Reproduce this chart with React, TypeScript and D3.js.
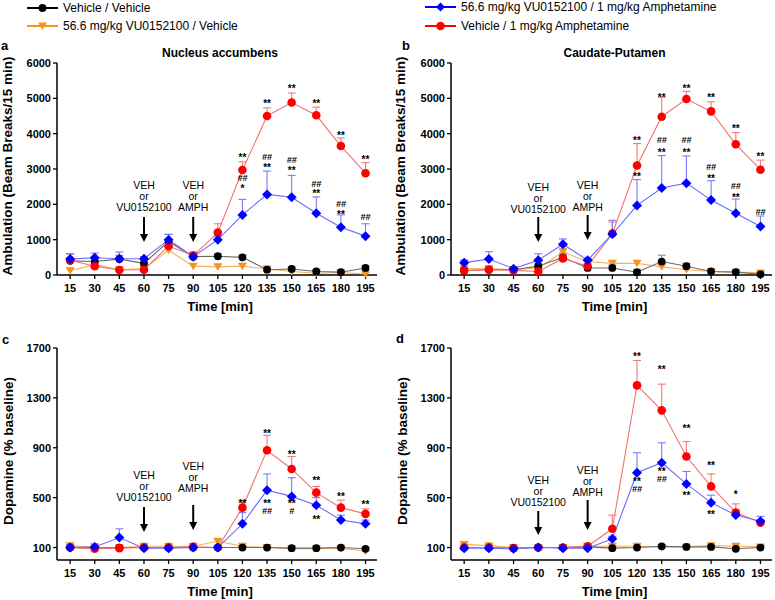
import React from "react";
import * as d3 from "d3";

const times = [15, 30, 45, 60, 75, 90, 105, 120, 135, 150, 165, 180, 195];

// a: Nucleus accumbens, ambulation
const ambNAcVehVeh = [400, 380, 450, 330, 950, 520, 530, 500, 150, 170, 100, 80, 200];
const ambNAcVehVehErr = [600, 500, 560, 420, 1150, 620, 600, 570, 200, 230, 150, 120, 260];
const ambNAcVuVeh = [120, 300, 150, 180, 700, 250, 230, 250, 170, 100, 50, 70, 30];
const ambNAcVuVehErr = [200, 380, 220, 260, 800, 320, 300, 320, 230, 150, 90, 110, 70];
const ambNAcVuAmph = [450, 490, 460, 460, 1000, 520, 1000, 1700, 2280, 2200, 1750, 1350, 1100];
const ambNAcVuAmphErr = [600, 620, 650, 520, 1150, 620, 1100, 2140, 2940, 2820, 2210, 1700, 1450];
const ambNAcVehAmph = [420, 250, 140, 150, 820, 550, 1200, 2970, 4500, 4880, 4520, 3650, 2880];
const ambNAcVehAmphErr = [600, 330, 200, 220, 900, 650, 1450, 3200, 4730, 5150, 4750, 3880, 3180];

// b: Caudate-Putamen, ambulation
const ambCPuVehVeh = [120, 150, 150, 250, 500, 200, 200, 80, 380, 250, 100, 80, 20];
const ambCPuVehVehErr = [200, 220, 220, 330, 620, 280, 280, 150, 560, 330, 150, 130, 60];
const ambCPuVuVeh = [180, 180, 150, 200, 650, 380, 330, 330, 230, 150, 100, 80, 60];
const ambCPuVuVehErr = [420, 260, 220, 280, 750, 450, 400, 400, 300, 210, 150, 120, 100];
const ambCPuVuAmph = [350, 450, 180, 420, 870, 420, 1160, 1970, 2460, 2600, 2120, 1750, 1370];
const ambCPuVuAmphErr = [420, 660, 230, 600, 1020, 480, 1550, 2700, 3380, 3370, 2670, 2150, 1670];
const ambCPuVehAmph = [130, 150, 130, 100, 470, 250, 1170, 3100, 4480, 4980, 4630, 3700, 2980];
const ambCPuVehAmphErr = [200, 220, 200, 160, 560, 320, 1500, 3720, 5030, 5200, 4900, 4030, 3250];

// c: Nucleus accumbens, dopamine
const daNAcVehVeh = [100, 95, 100, 100, 100, 100, 100, 100, 100, 95, 95, 100, 90];
const daNAcVehVehErr = [110, 105, 110, 110, 110, 110, 110, 110, 110, 105, 105, 110, 100];
const daNAcVuVeh = [115, 100, 100, 110, 110, 110, 150, 110, 100, 90, 90, 95, 70];
const daNAcVuVehErr = [125, 110, 110, 120, 120, 120, 165, 120, 110, 100, 100, 105, 80];
const daNAcVuAmph = [100, 105, 180, 95, 95, 100, 100, 290, 560, 510, 440, 320, 290];
const daNAcVuAmphErr = [120, 130, 250, 110, 110, 115, 115, 380, 690, 660, 500, 360, 320];
const daNAcVehAmph = [100, 90, 95, 100, 100, 105, 100, 420, 880, 730, 540, 420, 370];
const daNAcVehAmphErr = [120, 100, 105, 115, 110, 115, 110, 480, 1000, 830, 590, 480, 410];

// d: Caudate-Putamen, dopamine
const daCPuVehVeh = [100, 100, 95, 100, 100, 105, 95, 100, 110, 105, 105, 90, 100];
const daCPuVehVehErr = [110, 110, 105, 110, 110, 115, 105, 110, 120, 115, 115, 100, 110];
const daCPuVuVeh = [125, 115, 100, 100, 100, 110, 110, 110, 100, 105, 115, 110, 105];
const daCPuVuVehErr = [135, 125, 110, 110, 110, 120, 120, 120, 110, 115, 125, 120, 115];
const daCPuVuAmph = [95, 95, 90, 100, 95, 95, 170, 700, 780, 610, 460, 360, 310];
const daCPuVuAmphErr = [110, 105, 100, 110, 105, 105, 190, 860, 940, 710, 520, 400, 350];
const daCPuVehAmph = [100, 100, 95, 100, 100, 110, 250, 1400, 1200, 830, 590, 380, 300];
const daCPuVehAmphErr = [110, 110, 105, 110, 110, 120, 360, 1600, 1410, 950, 690, 450, 320];

// significance marks: [time, text, level]
const sigA: [number, string, number][] = [
  [120, "**", 3380], [135, "**", 4930], [150, "**", 5330], [165, "**", 4930], [180, "**", 4010], [195, "**", 3330],
  [120, "##", 2755], [120, "*", 2500], [135, "##", 3350], [135, "**", 3113], [150, "##", 3255], [150, "**", 3020],
  [165, "##", 2595], [165, "**", 2360], [180, "##", 2030], [180, "**", 1790], [195, "##", 1650],
];
const sigB: [number, string, number][] = [
  [120, "**", 3870], [135, "**", 5075], [150, "**", 5330], [165, "**", 5095], [180, "**", 4217], [195, "**", 3415],
  [120, "**", 2850], [135, "##", 3820], [135, "**", 3540], [150, "##", 3820], [150, "**", 3540],
  [165, "##", 3065], [165, "**", 2800], [180, "##", 2520], [180, "**", 2265], [195, "##", 1790],
];
const sigC: [number, string, number][] = [
  [120, "**", 470], [135, "**", 1035], [150, "**", 864], [165, "**", 655], [180, "**", 527], [195, "**", 463],
  [135, "**", 470], [135, "##", 398], [150, "**", 470], [150, "#", 398], [165, "**", 347],
];
const sigD: [number, string, number][] = [
  [120, "**", 1650], [135, "**", 1550], [150, "**", 1069], [165, "**", 775], [180, "*", 543],
  [120, "**", 645], [120, "##", 573], [135, "**", 726], [135, "##", 654], [150, "**", 535], [165, "**", 385],
];

const ambTicks = [0, 1000, 2000, 3000, 4000, 5000, 6000];
const daTicks = [100, 500, 900, 1300, 1700];

const FONT = "Liberation Sans, Arial, sans-serif";

type Series = { vals: number[]; errs: number[]; kind: "vv" | "uv" | "ua" | "va" };

const STYLE = {
  vv: { mark: "#000000", line: "#6a6a6a", err: "#888888" },
  uv: { mark: "#f7941d", line: "#f8b060", err: "#f8b060" },
  ua: { mark: "#0000ff", line: "#6c6cff", err: "#7a7aff" },
  va: { mark: "#ff0000", line: "#f27272", err: "#f27a7a" },
};

function Marker({ kind, x, y, legend }: { kind: string; x: number; y: number; legend?: boolean }) {
  const c = (STYLE as any)[kind].mark;
  if (kind === "ua") {
    const s = legend ? 4.5 : 5;
    return <path d={`M${x},${y - s}L${x + s},${y}L${x},${y + s}L${x - s},${y}Z`} fill={c} />;
  }
  if (kind === "uv") {
    return <path d={`M${x - 4.5},${y - 3.5}L${x + 4.5},${y - 3.5}L${x},${y + 4}Z`} fill={c} />;
  }
  return <circle cx={x} cy={y} r={kind === "va" ? 4.3 : 3.9} fill={c} />;
}

type ArrowCfg = { t: number; lines: string[]; textY: number; a0: number; a1: number };

type PanelProps = {
  x0: number; x1: number; yTop: number; yBot: number;
  domain: [number, number]; ticks: number[];
  series: Series[]; sig: [number, string, number][];
  arrows: ArrowCfg[];
  letter: string; letterX: number; letterY: number;
  title?: string; titleY?: number;
  yLabel: string; yLabelX: number;
};

function Panel(p: PanelProps) {
  const x = d3.scaleLinear().domain([7, 202]).range([p.x0, p.x1]);
  const y = d3.scaleLinear().domain(p.domain).range([p.yBot, p.yTop]);
  const line = d3.line<number>().x((_, i) => x(times[i])).y((d) => y(d));
  const order = ["uv", "vv", "va", "ua"];
  const sorted = order.map((k) => p.series.find((s) => s.kind === k)!);

  // stack marks at the same time point that sit close together into one text
  const groups: { t: number; items: { txt: string; py: number }[] }[] = [];
  p.sig.forEach(([t, txt, lv]) => {
    const py = y(lv);
    const g = groups.find((gr) => gr.t === t && gr.items.some((it) => Math.abs(it.py - py) < 12));
    if (g) g.items.push({ txt, py });
    else groups.push({ t, items: [{ txt, py }] });
  });

  return (
    <g fontFamily={FONT}>
      <text x={p.letterX} y={p.letterY} fontSize={13} fontWeight="bold">{p.letter}</text>
      {p.title && (
        <text x={(p.x0 + p.x1) / 2 + 3} y={p.titleY} fontSize={12} fontWeight="bold" textAnchor="middle">{p.title}</text>
      )}
      <text
        transform={`translate(${p.yLabelX},${(p.yTop + p.yBot) / 2 - 3}) rotate(-90)`}
        fontSize={13.5} fontWeight="bold" textAnchor="middle"
      >{p.yLabel}</text>
      {/* axes */}
      <line x1={p.x0} x2={p.x0} y1={p.yTop} y2={p.yBot} stroke="#000" strokeWidth={1.5} />
      <line x1={p.x0} x2={p.x1} y1={p.yBot} y2={p.yBot} stroke="#000" strokeWidth={1.5} />
      {p.ticks.map((t) => (
        <g key={t}>
          <line x1={p.x0 - 4} x2={p.x0} y1={y(t)} y2={y(t)} stroke="#000" strokeWidth={1.3} />
          <text x={p.x0 - 6} y={y(t) + 4} fontSize={11} fontWeight="bold" textAnchor="end">{t}</text>
        </g>
      ))}
      {times.map((t) => (
        <g key={t}>
          <line x1={x(t)} x2={x(t)} y1={p.yBot} y2={p.yBot + 4} stroke="#000" strokeWidth={1.3} />
          <text x={x(t)} y={p.yBot + 17} fontSize={11} fontWeight="bold" textAnchor="middle">{t}</text>
        </g>
      ))}
      <text x={(p.x0 + p.x1) / 2 + 3} y={p.yBot + 36} fontSize={13} fontWeight="bold" textAnchor="middle">Time [min]</text>
      {/* arrows */}
      {p.arrows.map((a, i) => (
        <g key={i}>
          {a.lines.map((l, j) => (
            <text key={j} x={x(a.t)} y={a.textY + j * 11} fontSize={10.5} textAnchor="middle">{l}</text>
          ))}
          <line x1={x(a.t)} x2={x(a.t)} y1={a.a0} y2={a.a1 - 6} stroke="#000" strokeWidth={2} />
          <path d={`M${x(a.t) - 4},${a.a1 - 8}L${x(a.t) + 4},${a.a1 - 8}L${x(a.t)},${a.a1}Z`} fill="#000" />
        </g>
      ))}
      {/* lines and error bars */}
      {sorted.map((s) => {
        const st = (STYLE as any)[s.kind];
        return (
          <g key={s.kind}>
            {s.vals.map((v, i) => (
              <g key={i} stroke={st.err} strokeWidth={1.1}>
                <line x1={x(times[i])} x2={x(times[i])} y1={y(v)} y2={y(s.errs[i])} />
                <line x1={x(times[i]) - 4} x2={x(times[i]) + 4} y1={y(s.errs[i])} y2={y(s.errs[i])} />
              </g>
            ))}
            <path d={line(s.vals) || ""} fill="none" stroke={st.line} strokeWidth={1.1} />
          </g>
        );
      })}
      {sorted.map((s) => (
        <g key={s.kind}>
          {s.vals.map((v, i) => (
            <Marker key={i} kind={s.kind} x={x(times[i])} y={y(v)} />
          ))}
        </g>
      ))}
      {/* significance */}
      {groups.map((g, i) => (
        <text key={i} textAnchor="middle" fontWeight="bold">
          {g.items.map((it, j) => {
            const hash = it.txt.includes("#");
            const fs = hash ? 9 : 10;
            return (
              <tspan
                key={j} x={x(g.t)} y={it.py + (hash ? 0.36 : 0.58) * fs}
                fontSize={fs} fontStyle={hash ? "italic" : "normal"}
              >{it.txt}</tspan>
            );
          })}
        </text>
      ))}
    </g>
  );
}

function LegendItem({ kind, x, y, label }: { kind: string; x: number; y: number; label: string }) {
  const c = (STYLE as any)[kind].mark;
  return (
    <g fontFamily={FONT}>
      <line x1={x} x2={x + 31} y1={y} y2={y} stroke={c} strokeWidth={2} />
      <Marker kind={kind} x={x + 15.5} y={y} legend />
      <text x={x + 36} y={y + 4.3} fontSize={12}>{label}</text>
    </g>
  );
}

export default function App() {
  const veh60 = ["VEH", "or", "VU0152100"];
  const veh90 = ["VEH", "or", "AMPH"];
  return (
    <svg width={775} height={600} style={{ position: "absolute", left: 0, top: 0, background: "#fff" }}>
      <rect width={775} height={600} fill="#fff" />
      <LegendItem kind="vv" x={27} y={8} label="Vehicle / Vehicle" />
      <LegendItem kind="uv" x={27} y={26} label="56.6 mg/kg VU0152100 / Vehicle" />
      <LegendItem kind="ua" x={425} y={7} label="56.6 mg/kg VU0152100 / 1 mg/kg Amphetamine" />
      <LegendItem kind="va" x={425} y={26} label="Vehicle / 1 mg/kg Amphetamine" />
      <Panel
        x0={57} x1={377} yTop={63} yBot={275} domain={[0, 6000]} ticks={ambTicks}
        series={[
          { vals: ambNAcVehVeh, errs: ambNAcVehVehErr, kind: "vv" },
          { vals: ambNAcVuVeh, errs: ambNAcVuVehErr, kind: "uv" },
          { vals: ambNAcVuAmph, errs: ambNAcVuAmphErr, kind: "ua" },
          { vals: ambNAcVehAmph, errs: ambNAcVehAmphErr, kind: "va" },
        ]}
        sig={sigA}
        arrows={[
          { t: 60, lines: veh60, textY: 189, a0: 217, a1: 242 },
          { t: 90, lines: veh90, textY: 189, a0: 217, a1: 242 },
        ]}
        letter="a" letterX={1} letterY={50} title="Nucleus accumbens" titleY={57}
        yLabel="Ambulation (Beam Breaks/15 min)" yLabelX={12}
      />
      <Panel
        x0={451} x1={772} yTop={63} yBot={275} domain={[0, 6000]} ticks={ambTicks}
        series={[
          { vals: ambCPuVehVeh, errs: ambCPuVehVehErr, kind: "vv" },
          { vals: ambCPuVuVeh, errs: ambCPuVuVehErr, kind: "uv" },
          { vals: ambCPuVuAmph, errs: ambCPuVuAmphErr, kind: "ua" },
          { vals: ambCPuVehAmph, errs: ambCPuVehAmphErr, kind: "va" },
        ]}
        sig={sigB}
        arrows={[
          { t: 60, lines: veh60, textY: 191, a0: 217, a1: 242 },
          { t: 90, lines: veh90, textY: 189, a0: 215, a1: 240 },
        ]}
        letter="b" letterX={402} letterY={50} title="Caudate-Putamen" titleY={57}
        yLabel="Ambulation (Beam Breaks/15 min)" yLabelX={405}
      />
      <Panel
        x0={57} x1={377} yTop={348} yBot={560} domain={[0, 1700]} ticks={daTicks}
        series={[
          { vals: daNAcVehVeh, errs: daNAcVehVehErr, kind: "vv" },
          { vals: daNAcVuVeh, errs: daNAcVuVehErr, kind: "uv" },
          { vals: daNAcVuAmph, errs: daNAcVuAmphErr, kind: "ua" },
          { vals: daNAcVehAmph, errs: daNAcVehAmphErr, kind: "va" },
        ]}
        sig={sigC}
        arrows={[
          { t: 60, lines: veh60, textY: 479, a0: 507, a1: 532 },
          { t: 90, lines: veh90, textY: 470, a0: 505, a1: 530 },
        ]}
        letter="c" letterX={2} letterY={344}
        yLabel="Dopamine (% baseline)" yLabelX={13}
      />
      <Panel
        x0={451} x1={772} yTop={348} yBot={560} domain={[0, 1700]} ticks={daTicks}
        series={[
          { vals: daCPuVehVeh, errs: daCPuVehVehErr, kind: "vv" },
          { vals: daCPuVuVeh, errs: daCPuVuVehErr, kind: "uv" },
          { vals: daCPuVuAmph, errs: daCPuVuAmphErr, kind: "ua" },
          { vals: daCPuVehAmph, errs: daCPuVehAmphErr, kind: "va" },
        ]}
        sig={sigD}
        arrows={[
          { t: 60, lines: veh60, textY: 484, a0: 511, a1: 535 },
          { t: 90, lines: veh90, textY: 474, a0: 500, a1: 530 },
        ]}
        letter="d" letterX={396} letterY={343}
        yLabel="Dopamine (% baseline)" yLabelX={407}
      />
    </svg>
  );
}
